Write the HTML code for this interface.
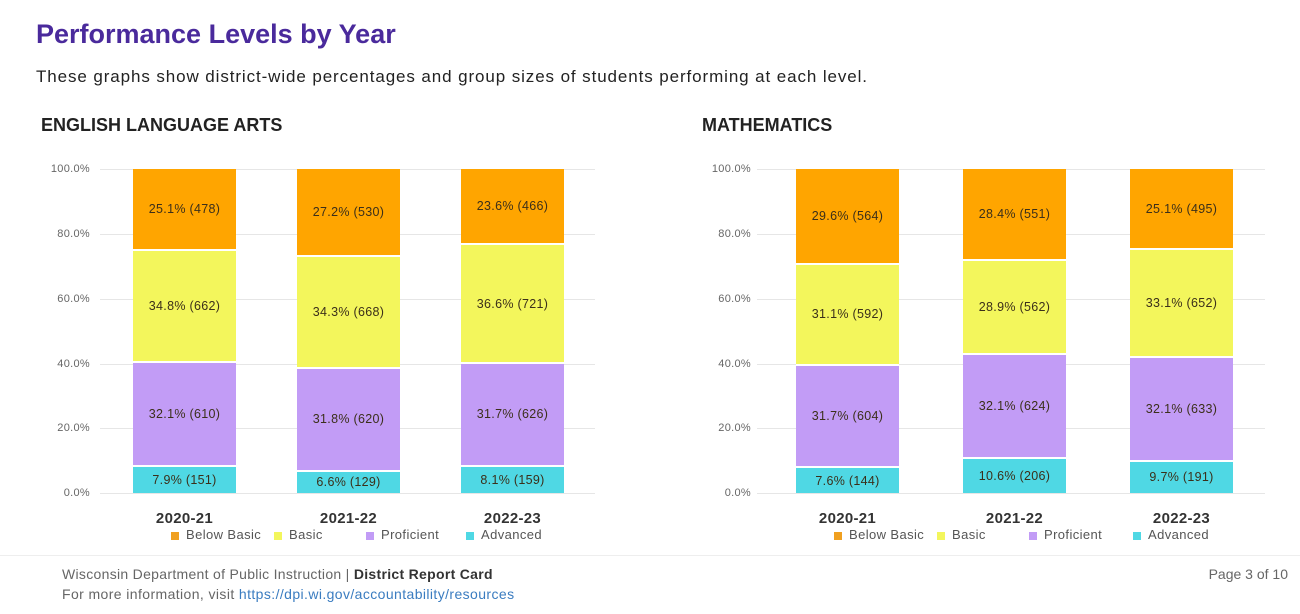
<!DOCTYPE html>
<html><head><meta charset="utf-8"><style>
*{margin:0;padding:0;box-sizing:border-box}
body{width:1300px;height:614px;background:#fff;position:relative;overflow:hidden;font-family:"Liberation Sans",sans-serif;color:#333}
.a{position:absolute;white-space:nowrap}
.g{position:absolute;height:1px;background:#e6e6e6}
.yl{position:absolute;font-size:11px;color:#666;width:50px;text-align:right;letter-spacing:0.3px}
.bar{position:absolute;top:169px;height:324px;width:103px;display:flex;flex-direction:column-reverse}
.s{display:flex;align-items:center;justify-content:center;font-size:12.5px;color:#3b2f1a;border-bottom:2px solid #fff;letter-spacing:0.3px}
.s:first-child{border-bottom:none}
.ad{background:#4fd8e4}.pr{background:#c29cf6}.ba{background:#f3f65c}.bb{background:#ffa500}
.yr{position:absolute;font-size:15px;font-weight:bold;color:#333;width:103px;text-align:center;top:510px;letter-spacing:0.3px}
.lg{position:absolute;top:527px;font-size:13px;color:#555;letter-spacing:0.4px}
.lg i{display:inline-block;width:8px;height:8px;margin:0 7px 0 0;vertical-align:middle}
</style></head><body>
<div class="a" style="left:36px;top:19px;font-size:27px;font-weight:bold;color:#4a2a9c">Performance Levels by Year</div>
<div class="a" style="left:36px;top:67px;font-size:17px;color:#222;letter-spacing:0.9px">These graphs show district-wide percentages and group sizes of students performing at each level.</div>
<div class="a" style="left:41px;top:115px;font-size:18px;font-weight:bold;color:#222">ENGLISH LANGUAGE ARTS</div>
<div class="a" style="left:702px;top:115px;font-size:18px;font-weight:bold;color:#222">MATHEMATICS</div>

<div class="g" style="left:100px;width:495px;top:169px"></div>
<div class="g" style="left:100px;width:495px;top:234px"></div>
<div class="g" style="left:100px;width:495px;top:299px"></div>
<div class="g" style="left:100px;width:495px;top:364px"></div>
<div class="g" style="left:100px;width:495px;top:428px"></div>
<div class="g" style="left:100px;width:495px;top:493px"></div>
<div class="yl" style="left:40px;top:163px">100.0%</div>
<div class="yl" style="left:40px;top:228px">80.0%</div>
<div class="yl" style="left:40px;top:293px">60.0%</div>
<div class="yl" style="left:40px;top:358px">40.0%</div>
<div class="yl" style="left:40px;top:422px">20.0%</div>
<div class="yl" style="left:40px;top:487px">0.0%</div>
<div class="g" style="left:757px;width:508px;top:169px"></div>
<div class="g" style="left:757px;width:508px;top:234px"></div>
<div class="g" style="left:757px;width:508px;top:299px"></div>
<div class="g" style="left:757px;width:508px;top:364px"></div>
<div class="g" style="left:757px;width:508px;top:428px"></div>
<div class="g" style="left:757px;width:508px;top:493px"></div>
<div class="yl" style="left:701px;top:163px">100.0%</div>
<div class="yl" style="left:701px;top:228px">80.0%</div>
<div class="yl" style="left:701px;top:293px">60.0%</div>
<div class="yl" style="left:701px;top:358px">40.0%</div>
<div class="yl" style="left:701px;top:422px">20.0%</div>
<div class="yl" style="left:701px;top:487px">0.0%</div>

<div class="bar" style="left:133px"><div class="s ad" style="height:7.9%">7.9% (151)</div><div class="s pr" style="height:32.1%">32.1% (610)</div><div class="s ba" style="height:34.8%">34.8% (662)</div><div class="s bb" style="height:25.1%">25.1% (478)</div></div>
<div class="bar" style="left:297px"><div class="s ad" style="height:6.6%">6.6% (129)</div><div class="s pr" style="height:31.8%">31.8% (620)</div><div class="s ba" style="height:34.3%">34.3% (668)</div><div class="s bb" style="height:27.2%">27.2% (530)</div></div>
<div class="bar" style="left:461px"><div class="s ad" style="height:8.1%">8.1% (159)</div><div class="s pr" style="height:31.7%">31.7% (626)</div><div class="s ba" style="height:36.6%">36.6% (721)</div><div class="s bb" style="height:23.6%">23.6% (466)</div></div>

<div class="bar" style="left:796px"><div class="s ad" style="height:7.6%">7.6% (144)</div><div class="s pr" style="height:31.7%">31.7% (604)</div><div class="s ba" style="height:31.1%">31.1% (592)</div><div class="s bb" style="height:29.6%">29.6% (564)</div></div>
<div class="bar" style="left:963px"><div class="s ad" style="height:10.6%">10.6% (206)</div><div class="s pr" style="height:32.1%">32.1% (624)</div><div class="s ba" style="height:28.9%">28.9% (562)</div><div class="s bb" style="height:28.4%">28.4% (551)</div></div>
<div class="bar" style="left:1130px"><div class="s ad" style="height:9.7%">9.7% (191)</div><div class="s pr" style="height:32.1%">32.1% (633)</div><div class="s ba" style="height:33.1%">33.1% (652)</div><div class="s bb" style="height:25.1%">25.1% (495)</div></div>

<div class="yr" style="left:133px">2020-21</div>
<div class="yr" style="left:297px">2021-22</div>
<div class="yr" style="left:461px">2022-23</div>
<div class="yr" style="left:796px">2020-21</div>
<div class="yr" style="left:963px">2021-22</div>
<div class="yr" style="left:1130px">2022-23</div>

<div class="lg" style="left:171px"><i style="background:#f0a020"></i>Below Basic</div>
<div class="lg" style="left:274px"><i style="background:#f3f65c"></i>Basic</div>
<div class="lg" style="left:366px"><i style="background:#c29cf6"></i>Proficient</div>
<div class="lg" style="left:466px"><i style="background:#4fd8e4"></i>Advanced</div>
<div class="lg" style="left:834px"><i style="background:#f0a020"></i>Below Basic</div>
<div class="lg" style="left:937px"><i style="background:#f3f65c"></i>Basic</div>
<div class="lg" style="left:1029px"><i style="background:#c29cf6"></i>Proficient</div>
<div class="lg" style="left:1133px"><i style="background:#4fd8e4"></i>Advanced</div>

<div class="g" style="left:0;width:1300px;top:555px;background:#eee"></div>
<div class="a" style="left:62px;top:566px;font-size:14px;color:#666;letter-spacing:0.3px">Wisconsin Department of Public Instruction | <b style="color:#333">District Report Card</b></div>
<div class="a" style="left:62px;top:586px;font-size:14px;color:#666;letter-spacing:0.4px">For more information, visit <span style="color:#3a7cc0">https://dpi.wi.gov/accountability/resources</span></div>
<div class="a" style="right:12px;top:566px;font-size:14px;color:#666">Page 3 of 10</div>
</body></html>
